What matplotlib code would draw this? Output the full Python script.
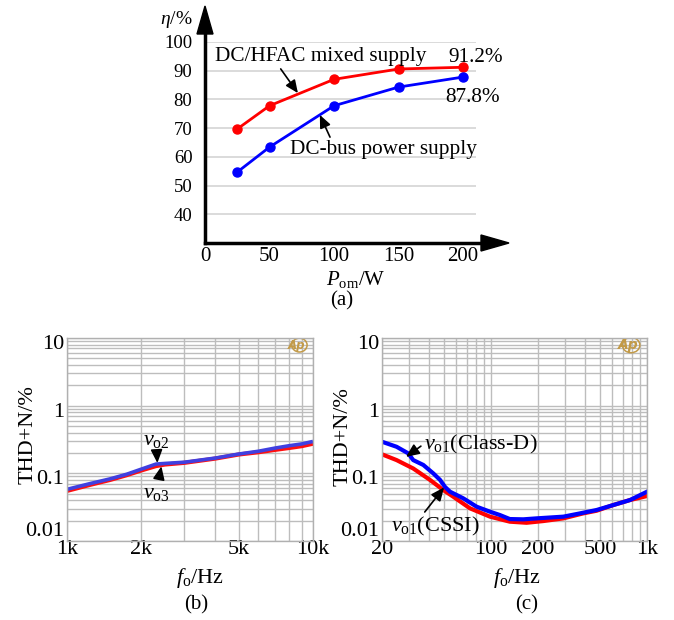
import matplotlib
matplotlib.use("Agg")
import matplotlib.pyplot as plt
from matplotlib.patches import Polygon, Ellipse
from matplotlib.lines import Line2D
from matplotlib.ticker import FixedLocator, NullFormatter, LogLocator
from matplotlib.transforms import ScaledTranslation

plt.rcParams['font.family'] = ['Liberation Serif', 'DejaVu Serif']
plt.rcParams['mathtext.fontset'] = 'custom'
plt.rcParams['mathtext.rm'] = 'Liberation Serif'
plt.rcParams['mathtext.it'] = 'Liberation Serif:italic'

# ---------------- data ----------------
# (a) efficiency
pom_w = [25, 50, 100, 150, 200]
eta_mixed = [69.7, 77.8, 87.0, 90.6, 91.2]
eta_dcbus = [54.7, 63.4, 77.8, 84.3, 87.8]
a_xticks = [0, 50, 100, 150, 200]
a_yticks = [40, 50, 60, 70, 80, 90, 100]

# (b) THD+N vs frequency
b_freq_vo2 = [1000, 1250, 1500, 1750, 2000, 2300, 2500, 3000, 4000, 5000, 6000, 7000, 8000, 9000, 10000]
b_thd_vo2 = [0.058, 0.071, 0.083, 0.097, 0.115, 0.137, 0.140, 0.146, 0.168, 0.193, 0.212, 0.236, 0.256, 0.272, 0.296]
b_freq_vo3 = [1000, 1250, 1500, 1750, 2000, 2300, 2500, 3000, 4000, 5000, 6000, 7000, 8000, 9000, 10000]
b_thd_vo3 = [0.055, 0.068, 0.080, 0.094, 0.110, 0.128, 0.135, 0.143, 0.165, 0.190, 0.205, 0.222, 0.237, 0.252, 0.274]

# (c) THD+N vs frequency
c_freq_classd = [20, 24.8, 29.5, 31.7, 36.8, 42.6, 47.1, 50.7, 54.6, 66.4, 80.9, 98.5, 114, 132, 161, 196, 291, 372, 475, 608, 778, 1000]
c_thd_classd = [0.293, 0.247, 0.197, 0.157, 0.133, 0.100, 0.080, 0.063, 0.0535, 0.0427, 0.0321, 0.0271, 0.0242, 0.0211, 0.0209, 0.0216, 0.0229, 0.0256, 0.0287, 0.034, 0.0403, 0.0535]
c_freq_cssi = [20, 24.8, 31.7, 40.6, 49.4, 57.3, 73.3, 98.5, 132, 169, 216, 291, 390, 475, 608, 778, 1000]
c_thd_cssi = [0.191, 0.157, 0.118, 0.080, 0.0567, 0.0451, 0.0304, 0.0229, 0.0193, 0.0186, 0.0197, 0.0216, 0.0256, 0.028, 0.034, 0.0403, 0.0462]

b_xticks = [1000, 2000, 5000, 10000]
b_xticklabels = ['1k', '2k', '5k', '10k']
c_xticks = [20, 100, 200, 500, 1000]
c_xticklabels = ['20', '100', '200', '500', '1k']
log_yticks = [0.01, 0.1, 1, 10]
log_yticklabels = ['0.01', '0.1', '1', '10']

W, H = 674, 620
FSA = 15.3     # panel (a) annotation text
FSB = 16       # panels (b),(c) text
fig = plt.figure(figsize=(W / 100, H / 100), dpi=100)


def fx(px):
    return px / W


def fy(py):
    return 1 - py / H


def axes_px(l, t, r, b):
    return fig.add_axes([fx(l), fy(b), (r - l) / W, (b - t) / H])


ARW = dict(arrowstyle='-|>,head_length=0.5,head_width=0.22', color='k', lw=1.2)

# ---------------- (a) ----------------
axa = axes_px(205, 42, 476, 243)
axa.set_xlim(0, 210)
axa.set_ylim(30, 100)
for s in axa.spines.values():
    s.set_visible(False)
axa.set_xticks(a_xticks)
axa.set_yticks(a_yticks)
axa.tick_params(axis='x', length=0, labelsize=15, pad=3)
axa.tick_params(axis='y', length=0, labelsize=13.5, pad=9)
for yv in a_yticks:
    axa.axhline(yv, color='#d4d4d4', lw=1.2, zorder=0)
axa.plot(pom_w, eta_mixed, color='#ff0000', lw=2, marker='o', ms=6.5, zorder=3, clip_on=False)
axa.plot(pom_w, eta_dcbus, color='#0000ff', lw=2, marker='o', ms=6.5, zorder=3, clip_on=False)

# axis lines with arrows
fig.add_artist(Line2D([fx(205), fx(205)], [fy(243), fy(20)], color='k', lw=2.5))
fig.add_artist(Line2D([fx(205), fx(490)], [fy(243), fy(243)], color='k', lw=2.5))
fig.add_artist(Polygon([[fx(205), fy(6)], [fx(197), fy(34)], [fx(213), fy(34)]], closed=True,
                       color='k', transform=fig.transFigure))
fig.add_artist(Polygon([[fx(509), fy(243)], [fx(481), fy(235)], [fx(481), fy(251)]], closed=True,
                       color='k', transform=fig.transFigure))

fig.text(fx(176), fy(20), r'$\mathit{\eta}$/%', fontsize=14, ha='center', va='center')
fig.text(fx(356), fy(279), r'$P_{\mathrm{om}}$/W', fontsize=15, ha='center', va='center')
fig.text(fx(342), fy(301), '(a)', fontsize=15, ha='center', va='center')

axa.annotate('DC/HFAC mixed supply', xy=(72, 82.2), xytext=(8, 94.9), fontsize=FSA,
             ha='left', va='center',
             arrowprops=dict(**ARW, shrinkA=0, shrinkB=0, relpos=(0.3, 0)))
axa.text(210, 94.7, '91.2%', fontsize=FSA, ha='center', va='center')
axa.text(207, 80.8, '87.8%', fontsize=FSA, ha='center', va='center')
axa.annotate('DC-bus power supply', xy=(89, 74.6), xytext=(66, 62.6), fontsize=FSA,
             ha='left', va='center',
             arrowprops=dict(**ARW, shrinkA=0, shrinkB=0, relpos=(0.22, 1)))


# ---------------- (b), (c) ----------------
def setup_log(ax, xmin, xmax, xticks, xlabels):
    ax.set_xscale('log')
    ax.set_yscale('log')
    ax.set_xlim(xmin, xmax)
    ax.set_ylim(0.01, 10)
    ax.xaxis.set_major_locator(FixedLocator(xticks))
    ax.set_xticklabels(xlabels)
    ax.xaxis.set_minor_locator(LogLocator(base=10, subs=range(1, 10), numticks=20))
    ax.xaxis.set_minor_formatter(NullFormatter())
    ax.yaxis.set_major_locator(FixedLocator(log_yticks))
    ax.set_yticklabels(log_yticklabels)
    ax.yaxis.set_minor_locator(LogLocator(base=10, subs=range(1, 10), numticks=20))
    ax.yaxis.set_minor_formatter(NullFormatter())
    ax.grid(True, which='both', color='#bdbdbd', lw=1.0)
    ax.tick_params(which='both', length=0, labelsize=FSB)
    ax.tick_params(axis='x', pad=-1)
    ax.tick_params(axis='y', pad=2)
    for s in ax.spines.values():
        s.set_color('#b0b0b0')
        s.set_linewidth(1.0)
    ax.set_axisbelow(True)
    # shift y tick labels like the reference
    for lab, v in zip(ax.get_yticklabels(), log_yticks):
        dy = 9 / 72 if v == 0.01 else -3 / 72
        lab.set_transform(lab.get_transform() + ScaledTranslation(0, dy, fig.dpi_scale_trans))


def ap_logo(ax, cx, cy, w, h, fs):
    ax.text(cx, cy, 'Ap', transform=ax.transAxes, fontsize=fs, color='#c29a48',
            family='DejaVu Sans', fontweight='bold', fontstyle='italic',
            ha='center', va='center')
    ax.add_patch(Ellipse((cx + 0.01, cy), w, h, transform=ax.transAxes,
                         fill=False, ec='#c29a48', lw=1.1))


axb = axes_px(67, 338, 313, 541)
setup_log(axb, 1000, 10000, b_xticks, b_xticklabels)
ap_logo(axb, 0.935, 0.965, 0.062, 0.068, 8.5)
axb.plot(b_freq_vo3, b_thd_vo3, color='#ff1010', lw=3, solid_capstyle='butt')
axb.plot(b_freq_vo2, b_thd_vo2, color='#4040e0', lw=2.6, solid_capstyle='butt')
fig.text(fx(28), fy(435), 'THD+N/%', fontsize=FSB, rotation=90, ha='center', va='center')
fig.text(fx(200), fy(578), r'$\mathit{f}_{\mathrm{o}}$/Hz', fontsize=FSB, ha='center', va='center')
axb.annotate(r'$\mathit{v}_{\mathrm{o2}}$', xy=(2330, 0.142), xytext=(2300, 0.31), fontsize=FSB,
             ha='center', va='center',
             arrowprops=dict(**ARW, shrinkA=2, shrinkB=0))
axb.annotate(r'$\mathit{v}_{\mathrm{o3}}$', xy=(2420, 0.127), xytext=(2300, 0.05), fontsize=FSB,
             ha='center', va='center',
             arrowprops=dict(**ARW, shrinkA=2, shrinkB=0))
fig.text(fx(196), fy(605), '(b)', fontsize=15, ha='center', va='center')

axc = axes_px(382, 338, 647, 541)
setup_log(axc, 20, 1000, c_xticks, c_xticklabels)
ap_logo(axc, 0.93, 0.965, 0.066, 0.075, 10)
axc.plot(c_freq_cssi, c_thd_cssi, color='#ff0000', lw=3)
axc.plot(c_freq_classd, c_thd_classd, color='#0000ff', lw=3)
fig.text(fx(343), fy(437), 'THD+N/%', fontsize=FSB, rotation=90, ha='center', va='center')
fig.text(fx(517), fy(578), r'$\mathit{f}_{\mathrm{o}}$/Hz', fontsize=FSB, ha='center', va='center')
axc.annotate(r'$\mathit{v}_{\mathrm{o1}}$(Class-D)', xy=(28.5, 0.175), xytext=(37, 0.27), fontsize=FSB,
             ha='left', va='center',
             arrowprops=dict(**ARW, shrinkA=0, shrinkB=0, relpos=(0.0, 0.5)))
axc.annotate(r'$\mathit{v}_{\mathrm{o1}}$(CSSI)', xy=(50, 0.062), xytext=(23, 0.0165), fontsize=FSB,
             ha='left', va='center',
             arrowprops=dict(**ARW, shrinkA=0, shrinkB=0, relpos=(0.35, 1.0)))
fig.text(fx(527), fy(605), '(c)', fontsize=15, ha='center', va='center')

fig.savefig('out.png', dpi=100)
